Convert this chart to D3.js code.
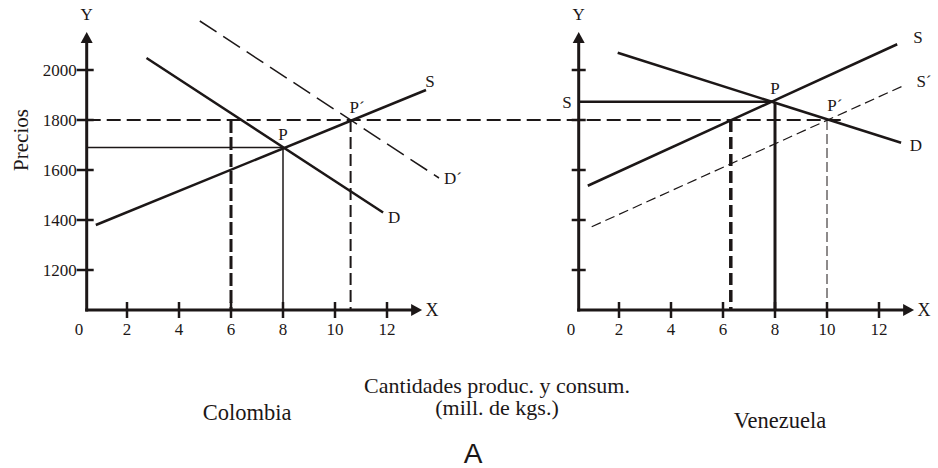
<!DOCTYPE html>
<html><head><meta charset="utf-8">
<script src="https://cdn.jsdelivr.net/npm/d3@7"></script>
<style>
html,body{margin:0;padding:0;background:#fff;}
text{font-family:"Liberation Serif","Times New Roman",serif;fill:#1c1717;}
</style></head>
<body><svg id="chart" width="938" height="468"></svg>
<script>
// ---- data ----
const xTickValues = [0, 2, 4, 6, 8, 10, 12];
const yTickValues = [1200, 1400, 1600, 1800, 2000];
const yTickLabels = ["1200", "1400", "1600", "1800", "2000"];

// Colombia
const colSupply = [[0.8, 1380], [13.5, 1920]];
const colDemand = [[2.75, 2048], [11.85, 1430]];
const colDemand2 = [[4.8, 2196], [14.0, 1568]];
const colP = [8, 1690];
const colP2 = [10.6, 1800];
const colQ6 = 6;

// Venezuela
const venSupply = [[0.8, 1537], [12.7, 2103]];
const venDemand = [[1.95, 2069], [12.85, 1709]];
const venSupply2 = [[0.95, 1373], [13.0, 1940]];
const venP = [8, 1873];
const venP2 = [10, 1800];
const venQ = 6.3;

const worldPrice = 1800;

// ---- layout ----
const ink = "#1c1717";
const svg = d3.select("#chart");
const y = d3.scaleLinear().domain([1040, 2000]).range([310, 70]);
const xL = d3.scaleLinear().domain([0, 12]).range([75, 387]);
const xR = d3.scaleLinear().domain([0, 12]).range([567, 879]);
const originX = 0.45, yBase = 1040, yTop = 2152, xEnd = 13.35;
const line = (x) => d3.line().x(d => x(d[0])).y(d => y(d[1]));

function axes(g, x, tickLeft, labels) {
  const ox = x(originX), oy = y(yBase);
  // y axis
  g.append("line").attr("x1", ox).attr("y1", oy + 1.5).attr("x2", ox).attr("y2", y(yTop) + 8)
    .attr("stroke", ink).attr("stroke-width", 3);
  g.append("path").attr("d", `M${ox},${y(yTop)} L${ox - 6},${y(yTop) + 11} L${ox + 6},${y(yTop) + 11} Z`).attr("fill", ink);
  // x axis
  g.append("line").attr("x1", ox - 1.5).attr("y1", oy).attr("x2", x(xEnd) - 8).attr("y2", oy)
    .attr("stroke", ink).attr("stroke-width", 3);
  g.append("path").attr("d", `M${x(xEnd)},${oy} L${x(xEnd) - 11},${oy - 6} L${x(xEnd) - 11},${oy + 6} Z`).attr("fill", ink);
  // y ticks
  g.selectAll(".yt").data(yTickValues).enter().append("line")
    .attr("x1", ox - tickLeft).attr("x2", ox + 7).attr("y1", d => y(d)).attr("y2", d => y(d))
    .attr("stroke", ink).attr("stroke-width", 2.5);
  if (labels) {
    g.selectAll(".yl").data(yTickValues).enter().append("text")
      .attr("x", ox - tickLeft).attr("y", d => y(d)).attr("dy", "0.35em")
      .attr("text-anchor", "end").attr("font-size", 17).text((d, i) => yTickLabels[i]);
  }
  // x ticks
  g.selectAll(".xt").data(xTickValues.filter(v => v > 0)).enter().append("line")
    .attr("x1", d => x(d)).attr("x2", d => x(d)).attr("y1", oy - 8).attr("y2", oy + 8)
    .attr("stroke", ink).attr("stroke-width", 2.5);
  g.selectAll(".xl").data(xTickValues).enter().append("text")
    .attr("x", d => d === 0 ? x(d) + 4 : x(d)).attr("y", oy + 25)
    .attr("text-anchor", "middle").attr("font-size", 17).text(d => d);
  g.append("text").attr("x", ox).attr("y", 20).attr("text-anchor", "middle").attr("font-size", 17).text("Y");
  g.append("text").attr("x", x(xEnd) + 10).attr("y", oy + 6).attr("text-anchor", "middle").attr("font-size", 18).text("X");
}

function seg(g, x, pts, w, dash) {
  g.append("path").attr("d", line(x)(pts)).attr("fill", "none").attr("stroke", ink)
    .attr("stroke-width", w).attr("stroke-dasharray", dash || null);
}
function label(g, x, px, py, t) {
  g.append("text").attr("x", x(px)).attr("y", y(py)).attr("text-anchor", "middle").attr("font-size", 17).text(t);
}

// ---- Colombia ----
const gL = svg.append("g");
// world price dashed line spanning both panels
svg.append("line").attr("x1", xL(originX)).attr("x2", xR(colP2[0])).attr("y1", y(worldPrice)).attr("y2", y(worldPrice))
  .attr("stroke", ink).attr("stroke-width", 2).attr("stroke-dasharray", "14,6");

seg(gL, xL, [[originX, colP[1]], colP], 1.5);
seg(gL, xL, [colP, [colP[0], yBase]], 1.5);
seg(gL, xL, [[colQ6, worldPrice], [colQ6, yBase]], 3, "13,4");
seg(gL, xL, [[colP2[0], worldPrice], [colP2[0], yBase]], 2, "12,5");
seg(gL, xL, colSupply, 2.5);
seg(gL, xL, colDemand, 2.5);
seg(gL, xL, colDemand2, 1.5, "20,8");
axes(gL, xL, 10, true);
label(gL, xL, 13.65, 1932, "S");
label(gL, xL, 12.27, 1388, "D");
label(gL, xL, 14.54, 1544, "D\u00b4");
label(gL, xL, 8.0, 1720, "P");
label(gL, xL, 10.85, 1828, "P\u00b4");

// ---- Venezuela ----
const gR = svg.append("g");
seg(gR, xR, [[originX, venP[1]], venP], 2.5);
seg(gR, xR, [venP, [venP[0], yBase]], 3);
seg(gR, xR, [[venQ, worldPrice], [venQ, yBase]], 3.5, "12,5");
seg(gR, xR, [[venP2[0], worldPrice], [venP2[0], yBase]], 1, "10,4");
seg(gR, xR, venSupply, 2.5);
seg(gR, xR, venDemand, 2.5);
seg(gR, xR, venSupply2, 1.2, "10,5");
axes(gR, xR, 7, false);
label(gR, xR, 13.5, 2108, "S");
label(gR, xR, 13.73, 1932, "S\u00b4");
label(gR, xR, 13.42, 1676, "D");
label(gR, xR, 8.0, 1904, "P");
label(gR, xR, 10.3, 1836, "P\u00b4");
label(gR, xR, 0.0, 1848, "S");

// ---- titles ----
svg.append("text").attr("transform", "translate(28,140) rotate(-90)").attr("text-anchor", "middle")
  .attr("font-size", 21).text("Precios");
svg.append("text").attr("x", 497).attr("y", 393).attr("text-anchor", "middle").attr("font-size", 22)
  .text("Cantidades produc. y consum.");
svg.append("text").attr("x", 497).attr("y", 415).attr("text-anchor", "middle").attr("font-size", 22)
  .text("(mill. de kgs.)");
svg.append("text").attr("x", 247).attr("y", 420).attr("text-anchor", "middle").attr("font-size", 22.5).text("Colombia");
svg.append("text").attr("x", 780).attr("y", 428).attr("text-anchor", "middle").attr("font-size", 22.5).text("Venezuela");
svg.append("text").attr("x", 473).attr("y", 463).attr("text-anchor", "middle").attr("font-size", 28)
  .style("font-family", "'Liberation Sans', Arial, sans-serif").style("font-weight", 300).text("A");
</script></body></html>
